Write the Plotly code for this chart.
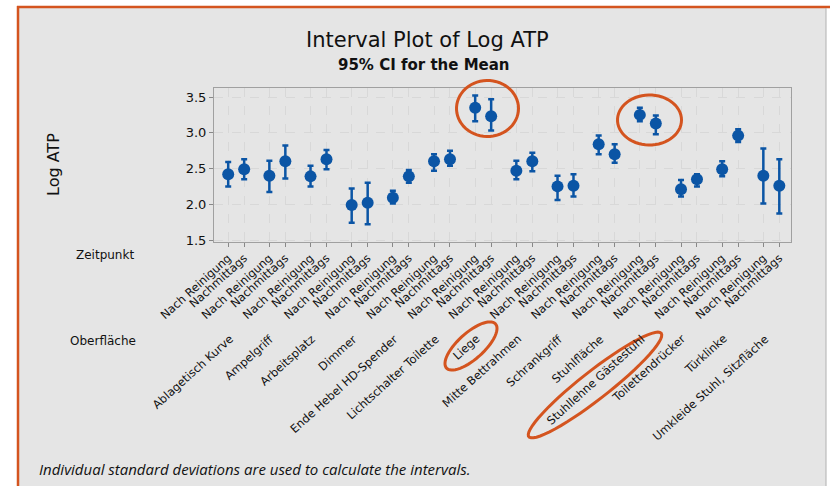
import numpy as np
import plotly.graph_objects as go

# ---------------- data ----------------
surfaces = ["Ablagetisch Kurve", "Ampelgriff", "Arbeitsplatz", "Dimmer",
            "Ende Hebel HD-Spender", "Lichtschalter Toilette", "Liege",
            "Mitte Bettrahmen", "Schrankgriff", "Stuhlfläche",
            "Stuhllehne Gästestuhl", "Toilettendrücker", "Türklinke",
            "Umkleide Stuhl, Sitzfläche"]
times = ["Nach Reinigung", "Nachmittags"]

mean_nr = [2.42, 2.40, 2.39, 1.99, 2.09, 2.60, 3.35, 2.47, 2.25, 2.84, 3.25, 2.21, 2.49, 2.40]
lo_nr   = [2.25, 2.17, 2.25, 1.74, 2.01, 2.47, 3.16, 2.35, 2.06, 2.70, 3.16, 2.11, 2.39, 2.01]
hi_nr   = [2.59, 2.61, 2.54, 2.22, 2.19, 2.70, 3.52, 2.61, 2.40, 2.96, 3.35, 2.34, 2.60, 2.78]
mean_nm = [2.49, 2.60, 2.63, 2.02, 2.39, 2.63, 3.23, 2.60, 2.26, 2.70, 3.13, 2.35, 2.96, 2.26]
lo_nm   = [2.35, 2.36, 2.49, 1.72, 2.30, 2.54, 3.03, 2.46, 2.11, 2.58, 2.98, 2.25, 2.87, 1.87]
hi_nm   = [2.63, 2.82, 2.76, 2.30, 2.48, 2.75, 3.47, 2.72, 2.42, 2.84, 3.24, 2.42, 3.05, 2.63]

ytick_vals = [1.5, 2.0, 2.5, 3.0, 3.5]

# ---------------- build ----------------
OFF = 0.194
xs, ys, ep, em, ticktext = [], [], [], [], []
for i in range(len(surfaces)):
    for k, (m, lo, hi) in enumerate([(mean_nr[i], lo_nr[i], hi_nr[i]),
                                     (mean_nm[i], lo_nm[i], hi_nm[i])]):
        xs.append(i + (-OFF if k == 0 else OFF))
        ys.append(m)
        ep.append(hi - m)
        em.append(m - lo)
        ticktext.append(times[k])

BLUE = "#0b55a5"
ORANGE = "#d4541f"
FONT = "DejaVu Sans"

fig = go.Figure(go.Scatter(
    x=xs, y=ys, mode="markers",
    marker=dict(color=BLUE, size=12),
    error_y=dict(type="data", symmetric=False, array=ep, arrayminus=em,
                 color=BLUE, thickness=2.5, width=3),
    showlegend=False, hoverinfo="skip"))

W_, H_ = 830, 486
L, R, T, B = 214, 791, 88, 242
PW, PH = R - L, B - T

def px(x):
    return (x - L) / PW

def py(y):
    return (B - y) / PH

shapes = []
# background panel and frame
shapes.append(dict(type="rect", xref="paper", yref="paper", layer="below",
                   x0=px(18), x1=px(826), y0=py(7), y1=py(490),
                   fillcolor="#e5e5e5", line=dict(width=0)))
shapes.append(dict(type="line", xref="paper", yref="paper",
                   x0=px(18), x1=px(18), y0=py(6), y1=py(490),
                   line=dict(color=ORANGE, width=2.5)))
shapes.append(dict(type="line", xref="paper", yref="paper",
                   x0=px(17), x1=px(832), y0=py(7), y1=py(7),
                   line=dict(color=ORANGE, width=2.5)))
shapes.append(dict(type="line", xref="paper", yref="paper",
                   x0=px(826), x1=px(826), y0=py(8), y1=py(490),
                   line=dict(color="#b0b0b0", width=1)))

def ellipse(cx, cy, a, b, ang_deg):
    t = np.linspace(0, 2 * np.pi, 60)
    ang = np.radians(ang_deg)
    xx = cx + a * np.cos(t) * np.cos(ang) - b * np.sin(t) * np.sin(ang)
    yy = cy - (a * np.cos(t) * np.sin(ang) + b * np.sin(t) * np.cos(ang))
    pts = ["{:.5f},{:.5f}".format(px(u), py(v)) for u, v in zip(xx, yy)]
    return "M" + " L".join(pts) + " Z"

for (cx, cy, a, b, ang) in [(487.5, 108.5, 31, 28, 0),
                            (649.5, 120, 32, 25, 0),
                            (471, 346, 33, 13, 42),
                            (595, 385, 84, 14, 38)]:
    shapes.append(dict(type="path", xref="paper", yref="paper",
                       path=ellipse(cx, cy, a, b, ang),
                       line=dict(color=ORANGE, width=3)))

def txt(text, x, y, size, weight=400, angle=0, xanchor="center", family=FONT):
    return dict(text=text, x=px(x), y=py(y), xref="paper", yref="paper",
                xanchor=xanchor, yanchor="middle", textangle=angle,
                showarrow=False,
                font=dict(family=family, size=size, color="#111", weight=weight))

annotations = [
    txt("Interval Plot of Log ATP", 427, 40, 21),
    txt("95% CI for the Mean", 424, 65, 15, 700),
    txt("Log ATP", 53, 165, 16, angle=-90),
    txt("Zeitpunkt", 105, 255, 12),
    txt("Oberfläche", 103, 341, 12),
    txt("<i>Individual standard deviations are used to calculate the intervals.</i>",
        37, 469, 15, xanchor="left", family="Open Sans"),
]
for i, s in enumerate(surfaces):
    annotations.append(dict(text=s, x=i + 0.06, y=py(329), xref="x", yref="paper",
                            xanchor="right", yanchor="top", textangle=-42,
                            showarrow=False,
                            font=dict(family=FONT, size=11.5, color="#111")))

fig.update_layout(
    width=W_, height=H_,
    margin=dict(l=L, r=W_ - R, t=T, b=H_ - B),
    paper_bgcolor="white", plot_bgcolor="white",
    shapes=shapes, annotations=annotations,
    xaxis=dict(range=[-0.539, 13.478], tickvals=xs, ticktext=ticktext,
               tickangle=-42, ticks="outside", ticklen=4, tickcolor="#888",
               tickfont=dict(family=FONT, size=11.5, color="#111"),
               showgrid=True, gridcolor="#d8d8d8", griddash="dash",
               showline=True, linecolor="#a0a0a0", mirror=True, zeroline=False),
    yaxis=dict(range=[1.472, 3.626], tickvals=ytick_vals,
               ticktext=["{:.1f}".format(v) for v in ytick_vals],
               ticks="outside", ticklen=4, tickcolor="#888",
               tickfont=dict(family=FONT, size=13, color="#111"),
               showgrid=True, gridcolor="#d8d8d8", griddash="dash",
               showline=True, linecolor="#a0a0a0", mirror=True, zeroline=False),
)

fig.write_html("out.html", config={"displayModeBar": False},
               post_script="document.body.style.margin='0';document.body.style.overflow='hidden';")
